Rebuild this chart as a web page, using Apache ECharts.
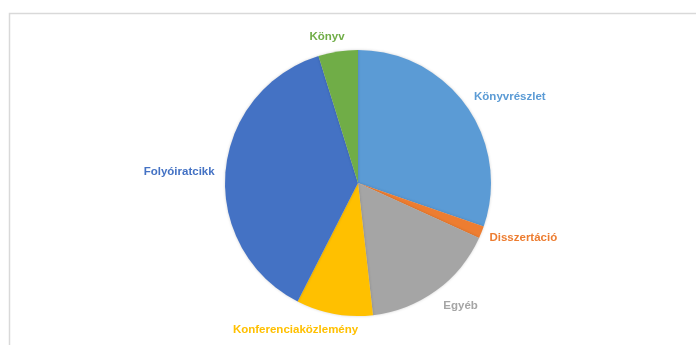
<!DOCTYPE html>
<html>
<head>
<meta charset="utf-8">
<script src="https://cdn.jsdelivr.net/npm/echarts@6/dist/echarts.min.js"></script>
<style>
  html, body { margin: 0; padding: 0; background: #fff; }
  #main { width: 696px; height: 345px; }
</style>
</head>
<body>
<div id="main"></div>
<script>
// slices clockwise from 12 o'clock, shares in percent
var categories = ['Könyvrészlet', 'Disszertáció', 'Egyéb', 'Konferenciaközlemény', 'Folyóiratcikk', 'Könyv'];
var shares = [30.3, 1.5, 16.4, 9.3, 37.7, 4.8];
var colors = ['#5B9BD5', '#ED7D31', '#A5A5A5', '#FFC000', '#4472C4', '#70AD47'];

var cx = 358, cy = 183, radius = 133, gap = 9;
// small manual label nudges (x, y), like Excel's own placement
var labelNudge = [[7, 0], [2, 0], [9, 3], [-26, 1], [-2, 1], [-7, 0]];

var total = 0;
for (var i = 0; i < shares.length; i++) total += shares[i];

// middle angle of slice i, degrees clockwise from the top
function midAngle(i) {
    var before = 0;
    for (var k = 0; k < i; k++) before += shares[k];
    return (before + shares[i] / 2) / total * 360;
}

var pieData = [];
for (var j = 0; j < categories.length; j++) {
    pieData.push({
        name: categories[j],
        value: shares[j],
        itemStyle: { color: colors[j] },
        label: { color: colors[j] }
    });
}

var myChart = echarts.init(document.getElementById('main'));
var option = {
    animation: false,
    graphic: [{
        type: 'rect',
        z: -1,
        shape: { x: 9.5, y: 13.5, width: 720, height: 400 },
        style: { fill: 'none', stroke: '#d9d9d9', lineWidth: 1.5 }
    }],
    series: [{
        type: 'pie',
        center: [cx, cy],
        radius: radius,
        startAngle: 90,
        clockwise: true,
        data: pieData,
        itemStyle: {
            borderWidth: 0,
            shadowBlur: 3,
            shadowColor: 'rgba(0,0,0,0.18)'
        },
        label: {
            show: true,
            position: 'outside',
            fontFamily: 'Liberation Sans',
            fontWeight: 'bold',
            fontSize: 11.5
        },
        labelLine: { show: false },
        emphasis: { disabled: true },
        labelLayout: function (params) {
            var n = params.dataIndex;
            var a = midAngle(n) * Math.PI / 180;
            var dx = Math.sin(a), dy = -Math.cos(a);
            var w = params.labelRect.width, h = params.labelRect.height;
            return {
                x: cx + dx * (radius + gap) + dx * w / 2 + labelNudge[n][0],
                y: cy + dy * (radius + gap) + dy * h / 2 + labelNudge[n][1],
                align: 'center',
                verticalAlign: 'middle'
            };
        }
    }]
};
myChart.setOption(option);
</script>
</body>
</html>
